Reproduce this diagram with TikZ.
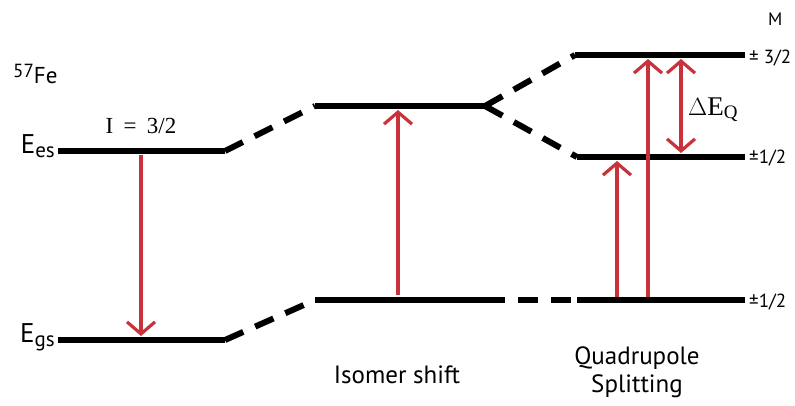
\documentclass[tikz,border=0pt]{standalone}
\usepackage{fontspec}
\setmainfont{PT Sans}
\newfontfamily\seriffont{Liberation Serif}
\usetikzlibrary{arrows.meta}
\definecolor{arrowred}{RGB}{200,50,58}
\begin{document}
\begin{tikzpicture}[x=1pt,y=-1pt,
  level/.style={line width=6pt},
  link/.style={line width=6pt, dash pattern=on 20pt off 13pt},
  trans/.style={draw=arrowred, line width=3.2pt, -{Straight Barb[length=12pt,width=28pt]}},
  dtrans/.style={draw=arrowred, line width=3.2pt, {Straight Barb[length=12pt,width=28pt]}-{Straight Barb[length=12pt,width=28pt]}},
  lab/.style={inner sep=0pt, anchor=base}
]
\useasboundingbox (0,0) rectangle (795,405);
% level end points
\coordinate (esL) at (58,151);  \coordinate (esR) at (225,151);
\coordinate (gsL) at (58,340);  \coordinate (gsR) at (225,340);
\coordinate (iuL) at (315,106); \coordinate (iuR) at (485,106);
\coordinate (ilL) at (315,300); \coordinate (ilR) at (485,300);
\coordinate (q3L) at (575,55);  \coordinate (q3R) at (745,55);
\coordinate (q1L) at (577,157); \coordinate (q1R) at (745,157);
\coordinate (q0L) at (577,300); \coordinate (q0R) at (745,300);
% levels
\draw[level] (esL) -- (esR);
\draw[level] (gsL) -- (gsR);
\draw[level] (iuL) -- (iuR);
\draw[level] (ilL) -- (ilR);
\draw[level] (q3L) -- (q3R);
\draw[level] (q1L) -- (q1R);
\draw[level] (q0L) -- (q0R);
% dashed links
\draw[link] (esR) -- (iuL);
\draw[link] (gsR) -- (ilL);
\draw[link] (iuR) -- (q3L);
\draw[link] (iuR) -- (q1L);
\draw[link] (ilR) -- (q0L);
% transitions
\coordinate (a1s) at (141,155); \coordinate (a1e) at (141,336);
\coordinate (a2s) at (398,295); \coordinate (a2e) at (398,110);
\coordinate (a3s) at (617,297); \coordinate (a3e) at (617,161);
\coordinate (a4s) at (648,297); \coordinate (a4e) at (648,59);
\coordinate (a5s) at (681,59);  \coordinate (a5e) at (681,153);
\draw[trans] (a1s) -- (a1e);
\draw[trans] (a2s) -- (a2e);
\draw[trans] (a3s) -- (a3e);
\draw[trans] (a4s) -- (a4e);
\draw[dtrans] (a5s) -- (a5e);
% labels
\node[lab, anchor=base west, font=\fontsize{23}{23}\selectfont] (fe) at (13,83) {\raisebox{0.5ex}{\fontsize{19}{19}\selectfont 57}Fe};
\node[lab] (spin) at (141,133) {\seriffont\fontsize{23}{23}\selectfont I\hspace{0.45em}=\hspace{0.45em}3/2};
\node[lab, anchor=base east] (ees) at (55,153) {\fontsize{27}{27}\selectfont E\raisebox{-0.3ex}{\fontsize{21}{21}\selectfont es}};
\node[lab, anchor=base east] (egs) at (55,342) {\fontsize{27}{27}\selectfont E\raisebox{-0.3ex}{\fontsize{21}{21}\selectfont gs}};
\node[lab, font=\fontsize{25}{25}\selectfont] (iso) at (397,383) {Isomer shift};
\node[lab, align=center, font=\fontsize{25}{28}\selectfont] (quad) at (637,392) {Quadrupole\\Splitting};
\node[lab, anchor=base west] (dq) at (688,115) {\seriffont\fontsize{27}{27}\selectfont $\Delta$E\raisebox{-0.3ex}{\fontsize{19}{19}\selectfont Q}};
\node[lab, anchor=base west] (m) at (768,25) {\fontsize{18}{18}\selectfont M};
\node[lab, anchor=base west] (m3) at (749,63) {\fontsize{19}{19}\selectfont ± 3/2};
\node[lab, anchor=base west] (m1) at (749,163) {\fontsize{19}{19}\selectfont ±1/2};
\node[lab, anchor=base west] (m0) at (749,307) {\fontsize{19}{19}\selectfont ±1/2};
\end{tikzpicture}
\end{document}
